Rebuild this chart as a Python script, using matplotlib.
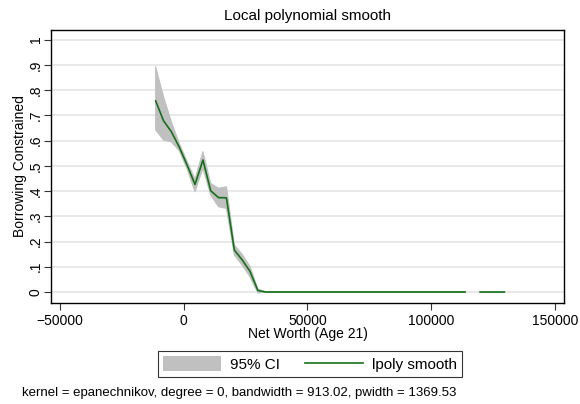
import numpy as np
import matplotlib.pyplot as plt
from matplotlib.patches import Patch
from matplotlib.lines import Line2D

plt.rcParams['font.family'] = ['Liberation Sans', 'DejaVu Sans']

# lpoly grid points (net worth at age 21) and smoothed values
net_worth = [-11300, -8100, -4950, -1800, 1400, 4600, 7800, 10950, 14100,
             17300, 20500, 23600, 26800, 30000, 33200, 113700, np.nan,
             119800, 129600]
smooth = [0.757, 0.678, 0.635, 0.575, 0.503, 0.426, 0.523, 0.401, 0.374,
          0.373, 0.166, 0.128, 0.082, 0.006, 0.0, 0.0, np.nan, 0.0, 0.0]
ci_upper = [0.892, 0.773, 0.674, 0.590, 0.518, 0.447, 0.556, 0.430, 0.411,
            0.417, 0.186, 0.150, 0.102, 0.012, 0.0, 0.0, np.nan, 0.0, 0.0]
ci_lower = [0.642, 0.602, 0.595, 0.560, 0.488, 0.397, 0.490, 0.384, 0.338,
            0.331, 0.147, 0.107, 0.060, -0.004, 0.0, 0.0, np.nan, 0.0, 0.0]

xticks = [-50000, 0, 50000, 100000, 150000]
yticks = [0, .1, .2, .3, .4, .5, .6, .7, .8, .9, 1]
ytick_labels = ['0', '.1', '.2', '.3', '.4', '.5', '.6', '.7', '.8', '.9', '1']

fig = plt.figure(figsize=(5.8, 4.04), dpi=100)
ax = fig.add_axes([0.0879, 0.25, 0.8845, 0.6757])

x = np.array(net_worth, dtype=float)
ax.fill_between(x, ci_lower, ci_upper, color='#c0c0c0', lw=0.8,
                edgecolor='#c0c0c0', zorder=2)
ax.plot(x, smooth, color='#16701a', lw=1.2, zorder=3)

ax.set_xlim(-53600, 153700)
ax.set_ylim(-0.0436, 1.038)
ax.set_xticks(xticks)
ax.set_xticklabels(['\u221250000', '0', '50000', '100000', '150000'])
ax.set_yticks(yticks)
ax.set_yticklabels(ytick_labels, rotation=90, va='center')
ax.tick_params(labelsize=10, length=5, width=0.8, color='#333333', pad=3)
ax.tick_params(axis='y', pad=1)
ax.yaxis.grid(True, color='#e6e6e6', lw=1.3, zorder=0)
ax.set_axisbelow(True)
for s in ax.spines.values():
    s.set_linewidth(1.0)

ax.set_title('Local polynomial smooth', fontsize=11, pad=7)
ax.set_xlabel('Net Worth (Age 21)', fontsize=10, labelpad=-1)
ax.set_ylabel('Borrowing Constrained', fontsize=10, labelpad=1)

handles = [Patch(facecolor='#c0c0c0', edgecolor='none'),
           Line2D([0], [0], color='#16701a', lw=1.2)]
leg = fig.legend(handles, ['95% CI', 'lpoly smooth'], loc='center',
                 bbox_to_anchor=(310 / 580, 1 - 364 / 404), ncol=2,
                 fontsize=11, frameon=True, fancybox=False, edgecolor='black',
                 handlelength=3.8, handleheight=1.1, columnspacing=1.6,
                 borderpad=0.35, handletextpad=0.6)
leg.get_frame().set_linewidth(0.8)

fig.text(22 / 580, 1 - 393 / 404,
         'kernel = epanechnikov, degree = 0, bandwidth = 913.02, pwidth = 1369.53',
         fontsize=9.5, va='center', ha='left')

fig.savefig('out.png', dpi=100)
